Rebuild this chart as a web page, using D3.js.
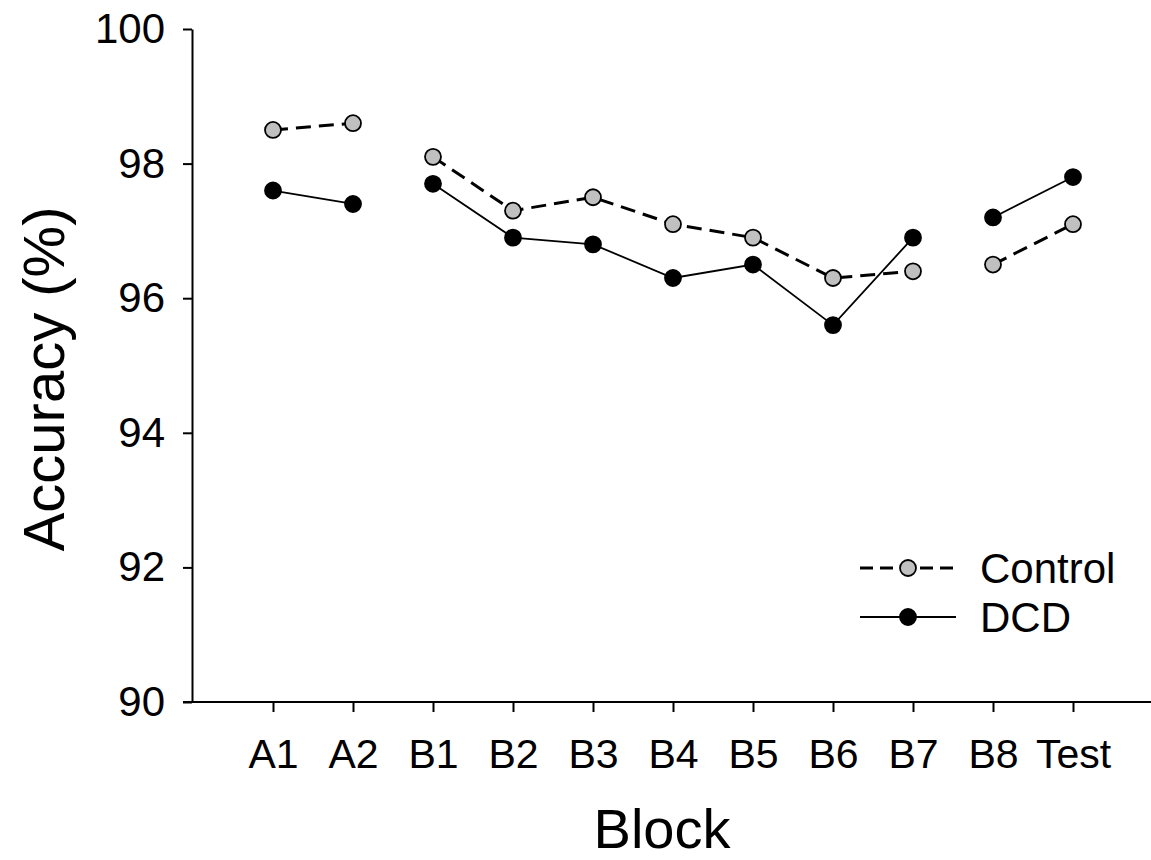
<!DOCTYPE html>
<html>
<head>
<meta charset="utf-8">
<script src="https://cdn.jsdelivr.net/npm/d3@7"></script>
<style>
  body { margin: 0; background: #fff; }
  text { font-family: "Liberation Sans", Arial, sans-serif; fill: #000; }
</style>
</head>
<body>
<div id="chart"></div>
<script>
var blocks = ["A1", "A2", "B1", "B2", "B3", "B4", "B5", "B6", "B7", "B8", "Test"];
var control = [98.5, 98.6, 98.1, 97.3, 97.5, 97.1, 96.9, 96.3, 96.4, 96.5, 97.1];
var dcd = [97.6, 97.4, 97.7, 96.9, 96.8, 96.3, 96.5, 95.6, 96.9, 97.2, 97.8];
// blocks that are joined by a line
var segments = [[0, 1], [2, 8], [9, 10]];
var yTicks = [90, 92, 94, 96, 98, 100];

var width = 1151, height = 860;

var svg = d3.select('#chart').append('svg')
    .attr('width', width)
    .attr('height', height);

var x = d3.scalePoint()
    .domain(blocks)
    .range([273, 1073]);

var y = d3.scaleLinear()
    .domain([90, 100])
    .range([702, 29]);

// y axis
var yAxis = svg.append('g')
    .attr('transform', 'translate(192,0)')
    .call(d3.axisLeft(y).tickValues(yTicks).tickSize(9).tickSizeOuter(0).tickPadding(18));
yAxis.select('.domain').attr('stroke-width', 2);
yAxis.selectAll('.tick line').attr('stroke-width', 2);
yAxis.selectAll('.tick text')
    .style('font-size', '42px')
    .style('font-family', '"Liberation Sans", Arial, sans-serif');

// x axis
var xAxis = svg.append('g')
    .attr('transform', 'translate(0,702)')
    .call(d3.axisBottom(x).tickSize(10).tickSizeOuter(0).tickPadding(27));
xAxis.select('.domain').remove();
xAxis.append('line')
    .attr('x1', 183).attr('x2', width)
    .attr('stroke', '#000').attr('stroke-width', 2);
xAxis.selectAll('.tick line').attr('stroke-width', 2);
xAxis.selectAll('.tick text')
    .style('font-size', '41px')
    .style('font-family', '"Liberation Sans", Arial, sans-serif');

// axis titles
svg.append('text')
    .attr('transform', 'translate(64,' + y(94.8) + ') rotate(-90)')
    .attr('text-anchor', 'middle')
    .style('font-size', '58px')
    .text('Accuracy (%)');

svg.append('text')
    .attr('x', 662).attr('y', 848)
    .attr('text-anchor', 'middle')
    .style('font-size', '56px')
    .text('Block');

var line = d3.line()
    .x(function(d) { return x(blocks[d.i]); })
    .y(function(d) { return y(d.v); });

var series = [
  { name: 'Control', values: control, fill: '#c0c0c0', dash: '15,8', sw: 3 },
  { name: 'DCD', values: dcd, fill: '#000', dash: null, sw: 1.8 }
];

series.forEach(function(s) {
    segments.forEach(function(seg) {
        var pts = [];
        for (var i = seg[0]; i <= seg[1]; i++) pts.push({ i: i, v: s.values[i] });
        svg.append('path')
            .datum(pts)
            .attr('d', line)
            .attr('fill', 'none')
            .attr('stroke', '#000')
            .attr('stroke-width', s.sw)
            .attr('stroke-dasharray', s.dash);
    });
});

series.forEach(function(s) {
    svg.selectAll('.pt-' + s.name)
        .data(s.values)
        .enter()
        .append('circle')
        .attr('cx', function(d, i) { return x(blocks[i]); })
        .attr('cy', function(d) { return y(d); })
        .attr('r', 8)
        .attr('fill', s.fill)
        .attr('stroke', '#000')
        .attr('stroke-width', 1.8);
});

// legend
var legend = svg.append('g').attr('transform', 'translate(860,568)');
series.forEach(function(s, k) {
    var g = legend.append('g').attr('transform', 'translate(0,' + (k * 49) + ')');
    g.append('line')
        .attr('x1', 0).attr('x2', 96)
        .attr('stroke', '#000')
        .attr('stroke-width', s.sw)
        .attr('stroke-dasharray', s.dash ? '13,7' : null);
    g.append('circle')
        .attr('cx', 48).attr('r', 8)
        .attr('fill', s.fill)
        .attr('stroke', '#000')
        .attr('stroke-width', 1.8);
    g.append('text')
        .attr('x', 120).attr('y', 15)
        .style('font-size', '42px')
        .text(s.name);
});
</script>
</body>
</html>
